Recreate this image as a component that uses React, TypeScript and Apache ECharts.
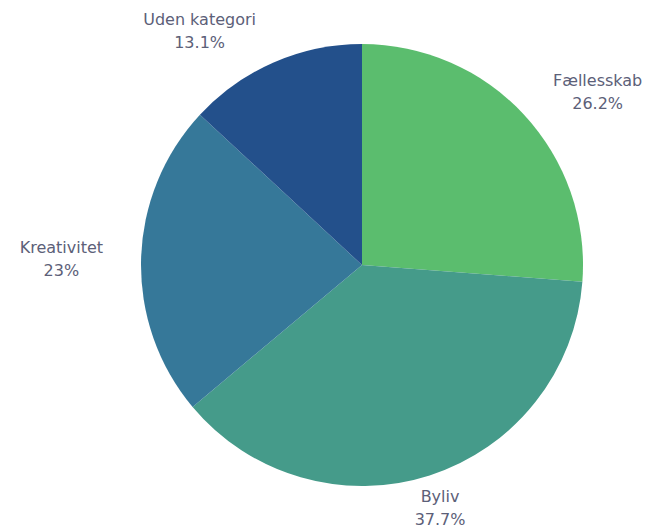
import React, { useEffect, useRef } from "react";
import * as echarts from "echarts";

const categories = ["Fællesskab", "Byliv", "Kreativitet", "Uden kategori"];
const shares = [26.2, 37.7, 23, 13.1];
const colors = ["#5bbd6e", "#459b8a", "#367899", "#23508b"];

const LABEL_GAP = 4;

export default function App() {
  const ref = useRef<HTMLDivElement>(null);
  useEffect(() => {
    if (!ref.current) return;
    const chart = echarts.init(ref.current, null, { renderer: "svg" });
    const total = shares.reduce((a, b) => a + b, 0);
    const midSin = shares.map((v, i) => {
      const before = shares.slice(0, i).reduce((a, b) => a + b, 0);
      const mid = ((before + v / 2) / total) * Math.PI * 2;
      return Math.sin(mid);
    });
    chart.setOption({
      animation: false,
      series: [
        {
          type: "pie",
          center: [362, 265],
          radius: [0, 221],
          startAngle: 90,
          clockwise: true,
          avoidLabelOverlap: false,
          data: categories.map((c, i) => ({
            name: c,
            value: shares[i],
            itemStyle: { color: colors[i] },
          })),
          label: {
            show: true,
            position: "outside",
            distanceToLabelLine: LABEL_GAP,
            formatter: (p: any) => `{a|${p.name}}\n{a|${p.value}%}`,
            rich: {
              a: {
                align: "center",
                fontFamily: "DejaVu Sans",
                fontSize: 16,
                lineHeight: 23,
                color: "#5c6078",
              },
            },
          },
          labelLine: { show: false, length: 34, length2: 0 },
          labelLayout: (params: any) => {
            const s = midSin[params.dataIndex];
            if (Math.abs(s) >= 0.35) return {};
            const r = params.labelRect;
            const x2 =
              params.align === "right"
                ? r.x + r.width + LABEL_GAP
                : r.x - LABEL_GAP;
            return { x: x2, align: "center" };
          },
        },
      ],
    });
    return () => chart.dispose();
  }, []);
  return (
    <div
      ref={ref}
      style={{ position: "absolute", left: 0, top: 0, width: 651, height: 532 }}
    />
  );
}
